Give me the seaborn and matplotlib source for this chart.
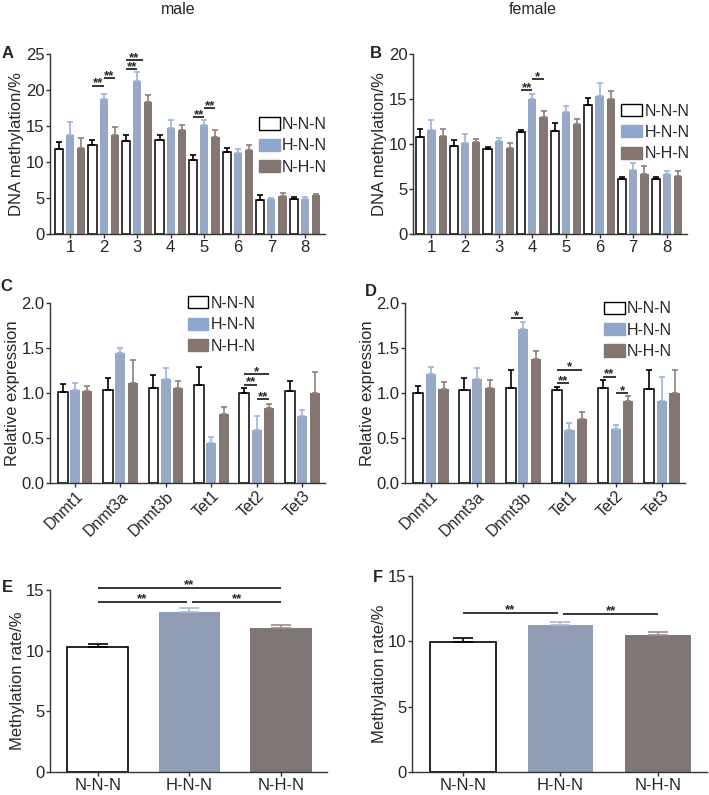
import numpy as np
import pandas as pd
import matplotlib
matplotlib.use("Agg")
import matplotlib.pyplot as plt
import seaborn as sns
from matplotlib.patches import Patch

sns.set_style("ticks")
plt.rcParams['font.family'] = ['Liberation Sans', 'DejaVu Sans']

# ================= DATA =================
groups = ["N-N-N", "H-N-N", "N-H-N"]
sites = ["1", "2", "3", "4", "5", "6", "7", "8"]
genes = ["Dnmt1", "Dnmt3a", "Dnmt3b", "Tet1", "Tet2", "Tet3"]

# A - male, CpG site methylation (%)
a_nnn = [11.8, 12.4, 12.9, 13.1, 10.3, 11.4, 4.7, 4.9]
a_hnn = [13.7, 18.7, 21.2, 14.7, 15.2, 11.3, 4.9, 4.9]
a_nhn = [11.9, 13.7, 18.4, 14.4, 13.5, 11.7, 5.3, 5.4]
a_nnn_err = [1.0, 0.7, 0.9, 0.7, 0.7, 0.6, 0.7, 0.2]
a_hnn_err = [1.8, 0.7, 1.3, 1.1, 0.7, 0.5, 0.1, 0.3]
a_nhn_err = [1.4, 1.2, 0.9, 0.7, 0.9, 0.6, 0.4, 0.2]

# B - female, CpG site methylation (%)
b_nnn = [10.8, 9.8, 9.5, 11.3, 11.4, 14.3, 6.1, 6.1]
b_hnn = [11.6, 10.1, 10.3, 15.0, 13.6, 15.3, 7.1, 6.7]
b_nhn = [10.9, 10.2, 9.6, 13.0, 12.2, 15.0, 6.7, 6.4]
b_nnn_err = [0.9, 0.7, 0.2, 0.3, 0.9, 0.8, 0.2, 0.2]
b_hnn_err = [1.1, 1.0, 0.4, 0.6, 0.6, 1.5, 0.8, 0.3]
b_nhn_err = [0.8, 0.4, 0.5, 0.7, 0.6, 0.9, 0.9, 0.6]

# C - male, relative expression
c_nnn = [1.01, 1.03, 1.06, 1.09, 1.00, 1.02]
c_hnn = [1.03, 1.44, 1.16, 0.44, 0.59, 0.75]
c_nhn = [1.02, 1.11, 1.06, 0.77, 0.83, 1.00]
c_nnn_err = [0.09, 0.14, 0.14, 0.20, 0.06, 0.11]
c_hnn_err = [0.08, 0.06, 0.12, 0.07, 0.15, 0.06]
c_nhn_err = [0.06, 0.26, 0.07, 0.07, 0.05, 0.23]

# D - female, relative expression
d_nnn = [1.00, 1.03, 1.06, 1.03, 1.06, 1.05]
d_hnn = [1.21, 1.16, 1.71, 0.59, 0.60, 0.91]
d_nhn = [1.05, 1.06, 1.38, 0.71, 0.91, 1.00]
d_nnn_err = [0.08, 0.14, 0.20, 0.04, 0.08, 0.21]
d_hnn_err = [0.08, 0.12, 0.08, 0.08, 0.04, 0.27]
d_nhn_err = [0.07, 0.08, 0.09, 0.08, 0.06, 0.26]

# E / F - overall methylation rate (%)
e_rate = [10.3, 13.16, 11.87]
e_err = [0.25, 0.35, 0.25]
f_rate = [9.92, 11.22, 10.48]
f_err = [0.33, 0.23, 0.21]

# significance marks: (category index, from bar, to bar, y, label)
a_sig = [(1, 0, 1, 20.6, "**"), (1, 1, 2, 21.6, "**"),
         (2, 0, 1, 22.9, "**"), (2, 0, 1.5, 24.1, "**"),
         (4, 0, 1, 16.2, "**"), (4, 1, 2, 17.5, "**")]
b_sig = [(3, 0, 1, 16.0, "**"), (3, 1, 2, 17.2, "*")]
c_sig = [(4, 0, 2, 1.21, "*"), (4, 0, 1, 1.09, "**"), (4, 1, 2, 0.93, "**")]
d_sig = [(2, 0, 1, 1.83, "*"), (3, 0, 2, 1.26, "*"), (3, 0, 1, 1.11, "**"),
         (4, 0, 1, 1.18, "**"), (4, 1, 2, 1.00, "*")]
e_sig = [(0, 2, 15.2, "**"), (0, 0.97, 14.04, "**"), (1.03, 2, 14.04, "**")]
f_sig = [(0, 0.97, 12.19, "**"), (1.03, 2, 12.1, "**")]

# ================= STYLE =================
W, H = 709, 795
fill_light = ["white", "#8fa7cf", "#857571"]
err_light = ["black", "#9db4da", "#8e7f7b"]
fill_dark = ["white", "#8a9bbb", "#807674"]
err_dark = ["black", "#a9bad8", "#9a8f8c"]
SPINE = "#333333"

fig = plt.figure(figsize=(W / 100, H / 100), dpi=100)


def ax_at(l, t, r, b):
    return fig.add_axes([l / W, 1 - b / H, (r - l) / W, (b - t) / H])


def style_axes(ax, ylab):
    sns.despine(ax=ax)
    for s in ("left", "bottom"):
        ax.spines[s].set_color(SPINE)
        ax.spines[s].set_linewidth(1.0)
    ax.tick_params(axis="both", length=3, width=1, color=SPINE, labelsize=12,
                   pad=1)
    ax.set_xlabel("")
    ax.set_ylabel(ylab, fontsize=12, labelpad=1)


def grouped(ax, cats, series, errs, width, gap):
    df = pd.DataFrame({
        "cat": np.tile(cats, len(groups)),
        "group": np.repeat(groups, len(cats)),
        "value": np.concatenate(series),
    })
    sns.barplot(data=df, x="cat", y="value", hue="group", order=cats,
                hue_order=groups, palette=fill_light, width=width, gap=gap,
                edgecolor="black", linewidth=0, legend=False, ax=ax)
    bars = list(ax.containers)
    centers = []
    for k, cont in enumerate(bars):
        xs = []
        for i, p in enumerate(cont.patches):
            x = p.get_x() + p.get_width() / 2
            xs.append(x)
            if k == 0:
                p.set_edgecolor("black")
                p.set_linewidth(1.1)
            ax.errorbar(x, series[k][i], yerr=[[0], [errs[k][i]]], fmt="none",
                        ecolor=err_light[k], elinewidth=1.2, capsize=2.5,
                        capthick=1.2, zorder=1)
        centers.append(xs)
    return np.array(centers)


def star(ax, x0, x1, y, txt):
    ax.plot([x0, x1], [y, y], color="black", lw=1.1, solid_capstyle="butt",
            clip_on=False)
    ax.annotate(txt, ((x0 + x1) / 2, y), xytext=(0, -0.5),
                textcoords="offset points", ha="center", va="baseline",
                fontsize=9.5, fontweight="bold", annotation_clip=False)


def sig_grouped(ax, centers, sigs):
    slot = centers[1, 0] - centers[0, 0]
    for c, i, j, y, txt in sigs:
        star(ax, centers[0, c] + i * slot, centers[0, c] + j * slot, y, txt)


def legend(ax, x, y):
    handles = [Patch(facecolor=fill_light[0], edgecolor="black", linewidth=1.0),
               Patch(facecolor=fill_light[1], edgecolor=fill_light[1]),
               Patch(facecolor=fill_light[2], edgecolor=fill_light[2])]
    ax.legend(handles, groups, loc="upper left", bbox_to_anchor=(x, y),
              frameon=False, fontsize=11.5, handlelength=1.3, handleheight=0.8,
              handletextpad=0.15, labelspacing=0.4, borderaxespad=0,
              borderpad=0)


def rotate_labels(ax):
    for lab in ax.get_xticklabels():
        lab.set_rotation(45)
        lab.set_ha("right")
        lab.set_rotation_mode("anchor")
        lab.set_fontsize(11.5)


# ================= A =================
ax = ax_at(50, 54, 325, 234)
cen = grouped(ax, sites, [a_nnn, a_hnn, a_nhn],
              [a_nnn_err, a_hnn_err, a_nhn_err], 1.0, 0.27)
sig_grouped(ax, cen, a_sig)
ax.set_ylim(0, 25)
ax.set_yticks([0, 5, 10, 15, 20, 25])
ax.set_xlim(-0.6, 7.6)
style_axes(ax, "DNA methylation/%")
legend(ax, 0.76, 0.65)

# ================= B =================
ax = ax_at(413, 54, 687, 234)
cen = grouped(ax, sites, [b_nnn, b_hnn, b_nhn],
              [b_nnn_err, b_hnn_err, b_nhn_err], 1.0, 0.27)
sig_grouped(ax, cen, b_sig)
ax.set_ylim(0, 20)
ax.set_yticks([0, 5, 10, 15, 20])
ax.set_xlim(-0.55, 7.6)
style_axes(ax, "DNA methylation/%")
legend(ax, 0.76, 0.725)

# ================= C =================
ax = ax_at(50, 303, 325, 483)
cen = grouped(ax, genes, [c_nnn, c_hnn, c_nhn],
              [c_nnn_err, c_hnn_err, c_nhn_err], 0.82, 0.2)
sig_grouped(ax, cen, c_sig)
ax.set_ylim(0, 2.0)
ax.set_yticks([0, 0.5, 1.0, 1.5, 2.0])
ax.set_yticklabels(["0.0", "0.5", "1.0", "1.5", "2.0"])
ax.set_xlim(-0.55, 5.5)
style_axes(ax, "Relative expression")
rotate_labels(ax)
legend(ax, 0.5, 1.04)

# ================= D =================
ax = ax_at(405, 303, 685, 483)
cen = grouped(ax, genes, [d_nnn, d_hnn, d_nhn],
              [d_nnn_err, d_hnn_err, d_nhn_err], 0.82, 0.2)
sig_grouped(ax, cen, d_sig)
ax.set_ylim(0, 2.0)
ax.set_yticks([0, 0.5, 1.0, 1.5, 2.0])
ax.set_yticklabels(["0.0", "0.5", "1.0", "1.5", "2.0"])
ax.set_xlim(-0.56, 5.5)
style_axes(ax, "Relative expression")
rotate_labels(ax)
legend(ax, 0.71, 1.01)


# ================= E / F =================
def single(ax, vals, errs, sigs):
    df = pd.DataFrame({"group": groups, "value": vals})
    sns.barplot(data=df, x="group", y="value", hue="group", palette=fill_dark,
                width=0.67, linewidth=0, legend=False, ax=ax)
    bars = list(ax.containers)
    for k, cont in enumerate(bars):
        for p in cont.patches:
            x = p.get_x() + p.get_width() / 2
            if k == 0:
                p.set_edgecolor("black")
                p.set_linewidth(1.2)
            ax.errorbar(x, vals[k], yerr=[[0], [errs[k]]], fmt="none",
                        ecolor=err_dark[k], elinewidth=1.2, capsize=7,
                        capthick=1.2, zorder=1)
    for x0, x1, y, txt in sigs:
        star(ax, x0, x1, y, txt)
    ax.set_ylim(0, 15)
    ax.set_yticks([0, 5, 10, 15])
    ax.set_xlim(-0.52, 2.5)
    style_axes(ax, "Methylation rate/%")


ax = ax_at(50, 590, 327, 772)
single(ax, e_rate, e_err, e_sig)
ax = ax_at(412, 576, 707, 772)
single(ax, f_rate, f_err, f_sig)

# ================= TEXT =================
fig.text(178 / W, 1 - 10 / H, "male", ha="center", va="center", fontsize=11.5)
fig.text(533 / W, 1 - 10 / H, "female", ha="center", va="center", fontsize=11.5)
for lbl, x, y in [("A", 8, 53), ("B", 376, 53), ("C", 6, 287), ("D", 371, 292),
                  ("E", 7, 588), ("F", 378, 578)]:
    fig.text(x / W, 1 - y / H, lbl, ha="center", va="center", fontsize=12,
             fontweight="bold")

fig.savefig("out.png", dpi=100, facecolor="white")
